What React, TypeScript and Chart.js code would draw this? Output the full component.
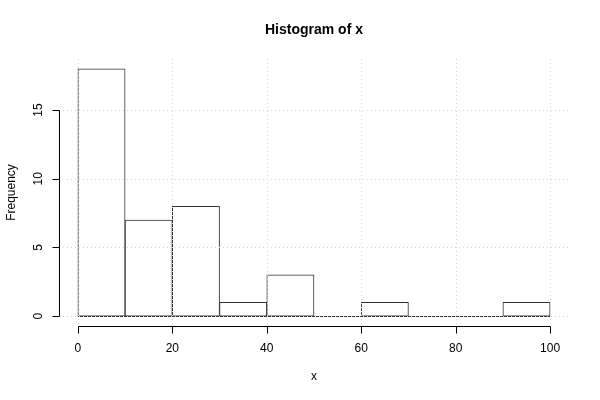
import React, { useEffect, useRef } from "react";
import { Chart, registerables } from "chart.js";

Chart.register(...registerables);

const binStarts = [0, 10, 20, 30, 40, 50, 60, 70, 80, 90];
const binWidth = 10;
const counts = [18, 7, 8, 1, 3, 0, 1, 0, 0, 1];
const xTicks = [0, 20, 40, 60, 80, 100];
const yTicks = [0, 5, 10, 15];
const title = "Histogram of x";
const xLabel = "x";
const yLabel = "Frequency";

const FONT = '"Liberation Sans", Arial, Helvetica, sans-serif';

const rPlugin = {
  id: "rStyle",
  afterDatasetsDraw(chart: any) {
    const ctx = chart.ctx;
    const xs = chart.scales.x;
    const ys = chart.scales.y;
    const area = chart.chartArea;
    ctx.save();
    // baseline (zero-height bins)
    ctx.strokeStyle = "#333";
    ctx.lineWidth = 1;
    ctx.beginPath();
    const y0 = Math.round(ys.getPixelForValue(0)) + 0.5;
    ctx.moveTo(xs.getPixelForValue(binStarts[0]), y0);
    ctx.lineTo(xs.getPixelForValue(binStarts[binStarts.length - 1] + binWidth), y0);
    ctx.stroke();
    // grid
    ctx.strokeStyle = "#d6d6d6";
    ctx.setLineDash([1, 3]);
    ctx.beginPath();
    for (const v of xTicks) {
      const px = Math.round(xs.getPixelForValue(v)) + 0.5;
      ctx.moveTo(px, area.top);
      ctx.lineTo(px, area.bottom);
    }
    for (const v of yTicks) {
      const py = Math.round(ys.getPixelForValue(v)) + 0.5;
      ctx.moveTo(area.left, py);
      ctx.lineTo(area.right, py);
    }
    ctx.stroke();
    ctx.setLineDash([]);
    ctx.restore();
  },
  afterDraw(chart: any) {
    const ctx = chart.ctx;
    const xs = chart.scales.x;
    const ys = chart.scales.y;
    const area = chart.chartArea;
    ctx.save();
    ctx.strokeStyle = "#000";
    ctx.lineWidth = 1;
    ctx.fillStyle = "#000";
    // x axis
    const ax = Math.round(area.bottom) + 0.5;
    ctx.beginPath();
    ctx.moveTo(Math.round(xs.getPixelForValue(xTicks[0])) + 0.5, ax);
    ctx.lineTo(Math.round(xs.getPixelForValue(xTicks[xTicks.length - 1])) + 0.5, ax);
    for (const v of xTicks) {
      const px = Math.round(xs.getPixelForValue(v)) + 0.5;
      ctx.moveTo(px, ax);
      ctx.lineTo(px, ax + 7);
    }
    ctx.stroke();
    ctx.font = `12px ${FONT}`;
    ctx.textAlign = "center";
    ctx.textBaseline = "middle";
    for (const v of xTicks) {
      ctx.fillText(String(v), xs.getPixelForValue(v), ax + 22);
    }
    // y axis
    const ay = Math.round(area.left) + 0.5;
    ctx.beginPath();
    ctx.moveTo(ay, Math.round(ys.getPixelForValue(yTicks[0])) + 0.5);
    ctx.lineTo(ay, Math.round(ys.getPixelForValue(yTicks[yTicks.length - 1])) + 0.5);
    for (const v of yTicks) {
      const py = Math.round(ys.getPixelForValue(v)) + 0.5;
      ctx.moveTo(ay, py);
      ctx.lineTo(ay - 7, py);
    }
    ctx.stroke();
    for (const v of yTicks) {
      ctx.save();
      ctx.translate(ay - 21, ys.getPixelForValue(v));
      ctx.rotate(-Math.PI / 2);
      ctx.fillText(String(v), 0, 0);
      ctx.restore();
    }
    // titles
    const cx = (area.left + area.right) / 2;
    const cy = (area.top + area.bottom) / 2;
    ctx.fillText(xLabel, cx, 377);
    ctx.save();
    ctx.translate(12, cy);
    ctx.rotate(-Math.PI / 2);
    ctx.fillText(yLabel, 0, 0);
    ctx.restore();
    ctx.font = `bold 14px ${FONT}`;
    ctx.fillText(title, cx, 30);
    ctx.restore();
  },
};

export default function App() {
  const ref = useRef<HTMLCanvasElement | null>(null);
  useEffect(() => {
    document.body.style.margin = "0";
    const canvas = ref.current;
    if (!canvas) return;
    const chart = new Chart(canvas, {
      type: "bar",
      data: {
        datasets: [
          {
            data: binStarts.map((b, i) => ({ x: b + binWidth / 2, y: counts[i] })),
            backgroundColor: "#ffffff",
            borderColor: "#333333",
            borderWidth: 1,
            borderSkipped: false,
            barPercentage: 1,
            categoryPercentage: 1,
          },
        ],
      },
      options: {
        responsive: false,
        animation: false,
        devicePixelRatio: 1,
        layout: { padding: { left: 59, right: 31, top: 59, bottom: 74 } },
        plugins: { legend: { display: false }, tooltip: { enabled: false }, title: { display: false } },
        scales: {
          x: { type: "linear", min: -4, max: 104, offset: false, display: false },
          y: { type: "linear", min: -0.72, max: 18.72, display: false },
        },
      },
      plugins: [rPlugin],
    });
    return () => chart.destroy();
  }, []);
  return (
    <div style={{ width: 600, height: 400, background: "#fff" }}>
      <canvas ref={ref} width={600} height={400} style={{ display: "block" }} />
    </div>
  );
}
